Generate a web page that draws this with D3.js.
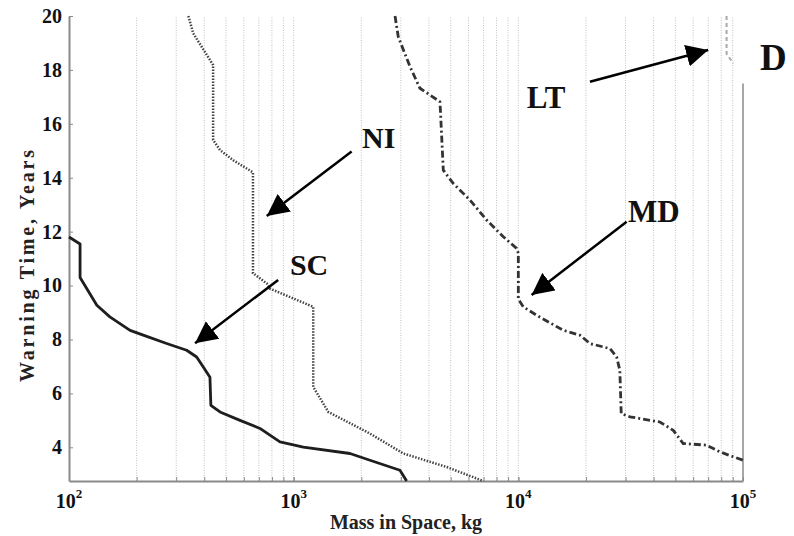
<!DOCTYPE html>
<html>
<head>
<meta charset="utf-8">
<script src="https://cdn.jsdelivr.net/npm/d3@7"></script>
<style>
  body { margin: 0; background: #fff; }
  svg { display: block; font-family: "Liberation Serif", "DejaVu Serif", serif; font-weight: bold; }
</style>
</head>
<body>
<svg id="chart"></svg>
<script>
// values (mass in kg, warning time in years)
const scMass = [100, 112, 112, 133, 152, 187, 214, 272, 334, 370, 396, 424, 428, 470, 577, 708, 784, 869, 1104, 1781, 2186, 2972, 3183];
const scYears = [11.8, 11.54, 10.3, 9.27, 8.84, 8.34, 8.16, 7.85, 7.6, 7.35, 6.98, 6.6, 5.56, 5.31, 5.0, 4.7, 4.45, 4.2, 4.01, 3.77, 3.52, 3.15, 2.75];

const niMass = [340, 357, 424, 438, 438, 470, 538, 659, 659, 759, 783, 1222, 1222, 1427, 2186, 3076, 4796, 6980];
const niYears = [20, 19.36, 18.37, 18.18, 15.4, 15.03, 14.65, 14.2, 10.46, 10.08, 9.89, 9.21, 6.24, 5.31, 4.51, 3.77, 3.27, 2.75];

const mdMass = [2826, 2921, 3294, 3648, 4477, 4500, 4635, 5130, 6097, 7227, 8575, 9822, 10000, 10000, 10520, 12050, 15850, 18800, 20840, 25580, 27390, 28300, 28700, 31400, 42700, 48900, 54200, 68900, 78900, 100000];
const mdYears = [20, 19.23, 18.12, 17.32, 16.82, 16.5, 14.28, 13.79, 13.17, 12.43, 11.81, 11.38, 11.2, 9.5, 9.21, 8.9, 8.34, 8.16, 7.85, 7.66, 7.35, 6.86, 5.25, 5.13, 4.94, 4.63, 4.14, 4.08, 3.83, 3.52];

const ltMass = [84500, 84500, 90600];
const ltYears = [20, 18.6, 18.24];

const yTicks = [4, 6, 8, 10, 12, 14, 16, 18, 20];
const xMajor = [100, 1000, 10000, 100000];
const xExp = ["2", "3", "4", "5"];

// annotation labels and arrows (data coordinates)
const labelText = ["NI", "SC", "MD", "LT", "D"];
const labelMass = [2014, 962, 30760, 10910, 118900];
const labelYears = [15.1, 10.39, 12.37, 16.59, 18.0];
const labelSize = [30, 30, 31, 31, 37];

const arrowFromMass = [1811, 853, 30340, 20840];
const arrowFromYears = [14.97, 10.21, 12.37, 17.56];
const arrowToMass = [759, 364, 11460, 70000];
const arrowToYears = [12.58, 7.86, 9.65, 18.74];

const W = 794, H = 536;
const mLeft = 69, mRight = 743, mTop = 16, mBottom = 481;

const svg = d3.select('#chart').attr('width', W).attr('height', H);

const x = d3.scaleLog().domain([100, 100000]).range([mLeft, mRight]);
const y = d3.scaleLinear().domain([2.75, 20]).range([mBottom, mTop]);

// minor tick values 200..90000
let minor = [];
[100, 1000, 10000].forEach(function (d) {
    for (let k = 2; k <= 10; k++) minor.push(d * k);
});
minor = minor.filter(v => v < 100000);

// vertical dotted grid
svg.append('g')
    .selectAll('line')
    .data(minor)
    .join('line')
    .attr('x1', d => x(d)).attr('x2', d => x(d))
    .attr('y1', y(2.75)).attr('y2', y(20))
    .attr('stroke', '#c0c0c0')
    .attr('stroke-width', 1)
    .attr('stroke-dasharray', '1,1.5');

// x axis
const xAxis = svg.append('g')
    .attr('transform', `translate(0,${mBottom})`)
    .call(d3.axisBottom(x).tickValues(minor.concat(xMajor)).tickSize(-4).tickSizeOuter(0).tickFormat(''));
xAxis.select('.domain').attr('stroke', '#8a8a8a').attr('stroke-width', 2);
xAxis.selectAll('.tick line').attr('stroke', '#8a8a8a');

const xLab = svg.append('g')
    .selectAll('text')
    .data(xMajor)
    .join('text')
    .attr('x', d => x(d))
    .attr('y', 508)
    .attr('text-anchor', 'middle')
    .attr('font-size', 20)
    .attr('fill', '#111');
xLab.append('tspan').text('10');
xLab.append('tspan').attr('dy', -10).attr('font-size', 13).text((d, i) => xExp[i]);

// y axis
const yAxis = svg.append('g')
    .attr('transform', `translate(${mLeft},0)`)
    .call(d3.axisLeft(y).tickValues(yTicks).tickSize(-4).tickSizeOuter(0).tickPadding(7));
yAxis.select('.domain').attr('stroke', '#8a8a8a').attr('stroke-width', 2);
yAxis.selectAll('.tick line').attr('stroke', '#8a8a8a');
yAxis.selectAll('.tick text')
    .attr('font-size', 20)
    .attr('font-family', '"Liberation Serif", serif')
    .attr('font-weight', 'bold')
    .attr('fill', '#111');

// right frame (partly hidden in the original)
svg.append('line')
    .attr('x1', mRight).attr('x2', mRight)
    .attr('y1', y(17.5)).attr('y2', mBottom)
    .attr('stroke', '#8a8a8a').attr('stroke-width', 1.5);

// axis titles
svg.append('text')
    .attr('x', (mLeft + mRight) / 2)
    .attr('y', 529)
    .attr('text-anchor', 'middle')
    .attr('font-size', 20)
    .attr('fill', '#222')
    .text('Mass in Space, kg');

svg.append('text')
    .attr('transform', 'translate(34,266) rotate(-90)')
    .attr('text-anchor', 'middle')
    .attr('font-size', 20)
    .attr('textLength', 232)
    .attr('lengthAdjust', 'spacing')
    .attr('fill', '#222')
    .text('Warning Time, Years');

// curves
const line = d3.line().x(d => x(d[0])).y(d => y(d[1]));
const zip = (a, b) => a.map((v, i) => [v, b[i]]);

svg.append('path').datum(zip(ltMass, ltYears))
    .attr('d', line).attr('fill', 'none')
    .attr('stroke', '#a8a8a8').attr('stroke-width', 2)
    .attr('stroke-dasharray', '4,3');

svg.append('path').datum(zip(niMass, niYears))
    .attr('d', line).attr('fill', 'none')
    .attr('stroke', '#444').attr('stroke-width', 2.5)
    .attr('stroke-dasharray', '1.5,1.5');

svg.append('path').datum(zip(mdMass, mdYears))
    .attr('d', line).attr('fill', 'none')
    .attr('stroke', '#333').attr('stroke-width', 2.8)
    .attr('stroke-dasharray', '7,3,2,3');

svg.append('path').datum(zip(scMass, scYears))
    .attr('d', line).attr('fill', 'none')
    .attr('stroke', '#1e1e1e').attr('stroke-width', 2.8)
    .attr('stroke-linejoin', 'round');

// arrows
svg.append('defs').append('marker')
    .attr('id', 'head')
    .attr('viewBox', '0 0 20 20')
    .attr('refX', 20).attr('refY', 10)
    .attr('markerWidth', 22).attr('markerHeight', 22)
    .attr('markerUnits', 'userSpaceOnUse')
    .attr('orient', 'auto')
    .append('path')
    .attr('d', 'M0,0 L20,10 L0,20 Z')
    .attr('fill', '#000');

svg.append('g')
    .selectAll('line')
    .data(arrowFromMass)
    .join('line')
    .attr('x1', d => x(d))
    .attr('y1', (d, i) => y(arrowFromYears[i]))
    .attr('x2', (d, i) => x(arrowToMass[i]))
    .attr('y2', (d, i) => y(arrowToYears[i]))
    .attr('stroke', '#000')
    .attr('stroke-width', 2.5)
    .attr('marker-end', 'url(#head)');

svg.append('g')
    .selectAll('text')
    .data(labelText)
    .join('text')
    .attr('x', (d, i) => x(labelMass[i]))
    .attr('y', (d, i) => y(labelYears[i]))
    .attr('font-size', (d, i) => labelSize[i])
    .attr('fill', '#111')
    .text(d => d);
</script>
</body>
</html>
